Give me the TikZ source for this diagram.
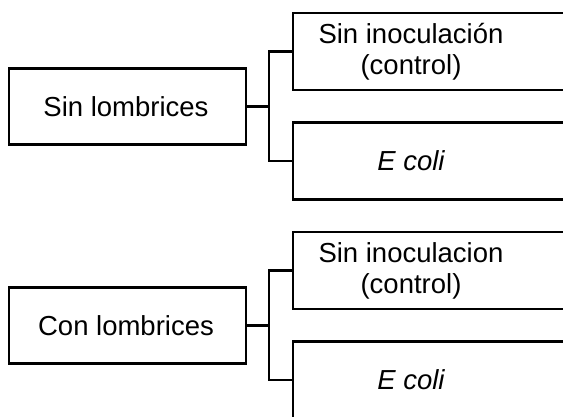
\documentclass[tikz,border=0pt]{standalone}
\usepackage{fontspec}
\setmainfont{Liberation Sans}
\begin{document}
\begin{tikzpicture}[x=1pt,y=-1pt,
  every node/.style={inner sep=0pt, outer sep=0pt},
  lbox/.style={draw, line width=2.6pt, minimum width=237pt, minimum height=76pt},
  rbox/.style={draw, line width=2.6pt, anchor=west, minimum width=330pt, minimum height=77pt},
  lbl/.style={align=center, font=\fontsize{27.5}{31}\selectfont},
  link/.style={line width=2.6pt}]
\useasboundingbox (0,0) rectangle (563,416);
\clip (0,0) rectangle (563,416);

% upper group
\node[lbox] (l1) at (127.5,106.5) {};
\node[lbl] (l1t) at (126,106.5) {Sin lombrices};
\node[rbox] (r1) at (293,51.5) {};
\node[lbl] (r1t) at (411,51.5) {Sin inoculación\\(control)};
\node[rbox] (r2) at (293,161) {};
\node[lbl] (r2t) at (411,161) {\itshape E coli};
\coordinate (j1) at ([xshift=23pt]l1.east);
\draw[link] (l1.east) -- (j1);
\draw[link] (r1.west) -| (j1) |- (r2.west);

% lower group
\node[lbox] (l2) at (127.5,325.5) {};
\node[lbl] (l2t) at (126,325.5) {Con lombrices};
\node[rbox] (r3) at (293,270.5) {};
\node[lbl] (r3t) at (411,270.5) {Sin inoculacion\\(control)};
\node[rbox] (r4) at (293,380) {};
\node[lbl] (r4t) at (411,380) {\itshape E coli};
\coordinate (j2) at ([xshift=23pt]l2.east);
\draw[link] (l2.east) -- (j2);
\draw[link] (r3.west) -| (j2) |- (r4.west);
\end{tikzpicture}
\end{document}
